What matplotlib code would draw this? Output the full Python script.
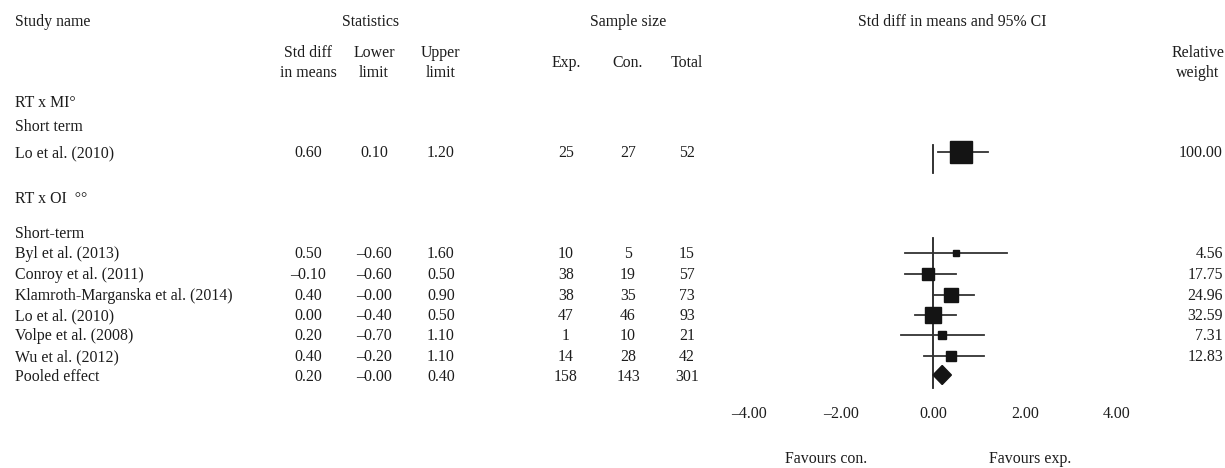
import numpy as np
import matplotlib.pyplot as plt

plt.rcParams['font.family'] = ['Liberation Serif', 'DejaVu Serif']
plt.rcParams['font.size'] = 11.4

# group 1: RT x MI
g1_names = ['Lo et al. (2010)']
g1_est = [0.60]
g1_low = [0.10]
g1_up = [1.20]
g1_exp = ['25']
g1_con = ['27']
g1_tot = ['52']
g1_w = [100.00]

# group 2: RT x OI
g2_names = ['Byl et al. (2013)', 'Conroy et al. (2011)',
            'Klamroth-Marganska et al. (2014)', 'Lo et al. (2010)',
            'Volpe et al. (2008)', 'Wu et al. (2012)']
g2_est = [0.50, -0.10, 0.40, 0.00, 0.20, 0.40]
g2_low = [-0.60, -0.60, -0.00, -0.40, -0.70, -0.20]
g2_up = [1.60, 0.50, 0.90, 0.50, 1.10, 1.10]
g2_exp = ['10', '38', '38', '47', '1', '14']
g2_con = ['5', '19', '35', '46', '10', '28']
g2_tot = ['15', '57', '73', '93', '21', '42']
g2_w = [4.56, 17.75, 24.96, 32.59, 7.31, 12.83]

pooled_name = 'Pooled effect'
pooled = [0.20, -0.00, 0.40]
pooled_n = ['158', '143', '301']

ticks = [-4, -2, 0, 2, 4]

W, H = 1225, 468
fig = plt.figure(figsize=(W / 100, H / 100), dpi=100)
tax = fig.add_axes([0, 0, 1, 1])
tax.set_xlim(0, W)
tax.set_ylim(H, 0)
tax.axis('off')

# forest panel: 0 at x=933 px, 46 px per unit
x0, ppu = 933, 46
fax = fig.add_axes([(x0 - 4 * ppu) / W, 0, 8 * ppu / W, 1])
fax.set_xlim(-4, 4)
fax.set_ylim(H, 0)
fax.axis('off')
fax.patch.set_alpha(0)

col_name, col_est, col_low, col_up = 15, 308, 374, 441
col_exp, col_con, col_tot, col_w = 566, 628, 687, 1223
txt = dict(color='#1c1c1c', va='center')

# headers
tax.text(col_name, 22, 'Study name', ha='left', **txt)
tax.text(371, 22, 'Statistics', ha='center', **txt)
tax.text(628, 22, 'Sample size', ha='center', **txt)
tax.text(952, 22, 'Std diff in means and 95% CI', ha='center', **txt)
for x, lab in [(col_est, 'Std diff\nin means'), (col_low, 'Lower\nlimit'),
               (col_up, 'Upper\nlimit'), (1198, 'Relative\nweight')]:
    tax.text(x, 63, lab, ha='center', linespacing=1.4, **txt)
for x, lab in [(col_exp, 'Exp.'), (col_con, 'Con.'), (col_tot, 'Total')]:
    tax.text(x, 63, lab, ha='center', **txt)

tax.text(col_name, 103, 'RT x MI°', ha='left', **txt)
tax.text(col_name, 127, 'Short term', ha='left', **txt)
tax.text(col_name, 199, 'RT x OI  °°', ha='left', **txt)
tax.text(col_name, 234, 'Short-term', ha='left', **txt)


def draw_rows(names, est, low, up, ne, nc, nt, w, rows, scale):
    for i in range(len(names)):
        y = rows[i]
        tax.text(col_name, y, names[i], ha='left', **txt)
        tax.text(col_est, y, f'{est[i]:.2f}'.replace('-', '–'), ha='center', **txt)
        tax.text(col_low, y, f'{low[i]:.2f}'.replace('-', '–'), ha='center', **txt)
        tax.text(col_up, y, f'{up[i]:.2f}'.replace('-', '–'), ha='center', **txt)
        tax.text(col_exp, y, ne[i], ha='center', **txt)
        tax.text(col_con, y, nc[i], ha='center', **txt)
        tax.text(col_tot, y, nt[i], ha='center', **txt)
        tax.text(col_w, y, f'{w[i]:.2f}', ha='right', **txt)
        ym = y - 1.5
        fax.plot([low[i], up[i]], [ym, ym], color='#333333', lw=1.3, zorder=2)
        fax.plot(est[i], ym, marker='s', color='#141414',
                 markersize=scale * np.sqrt(w[i]) * 0.72, zorder=3)


rows1 = [153]
rows2 = [254, 275, 296, 316, 336, 357]
draw_rows(g1_names, g1_est, g1_low, g1_up, g1_exp, g1_con, g1_tot, g1_w, rows1, 2.3)
draw_rows(g2_names, g2_est, g2_low, g2_up, g2_exp, g2_con, g2_tot, g2_w, rows2, 2.75)

# pooled row
yp = 377
tax.text(col_name, yp, pooled_name, ha='left', **txt)
for x, v in zip([col_est, col_low, col_up], pooled):
    tax.text(x, yp, f'{v:.2f}'.replace('-', '–'), ha='center', **txt)
for x, v in zip([col_exp, col_con, col_tot], pooled_n):
    tax.text(x, yp, v, ha='center', **txt)
ypm = yp - 2
fax.fill([pooled[1], pooled[0], pooled[2], pooled[0]],
         [ypm, ypm - 9.5, ypm, ypm + 9.5], color='#141414', zorder=3)

# zero lines
fax.plot([0, 0], [rows1[0] - 8, rows1[0] + 20], color='#222222', lw=1.3, zorder=1)
fax.plot([0, 0], [rows2[0] - 16, yp + 11], color='#222222', lw=1.3, zorder=1)

for t in ticks:
    fax.text(t, 414, f'{t:.2f}'.replace('-', '–'), ha='center', **txt)

tax.text(826, 459, 'Favours con.', ha='center', **txt)
tax.text(1030, 459, 'Favours exp.', ha='center', **txt)

fig.savefig('out.png', dpi=100)
